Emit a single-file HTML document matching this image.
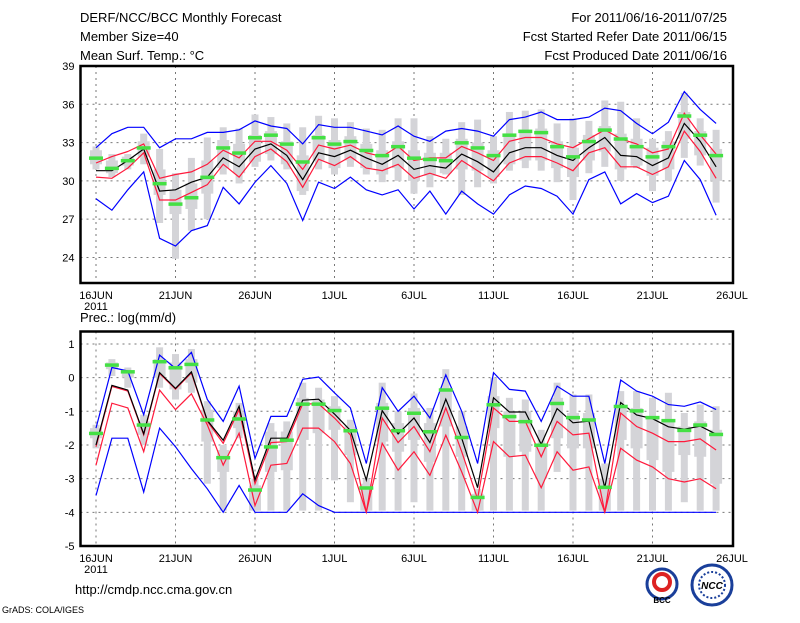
<!DOCTYPE html>
<html><head><meta charset="utf-8">
<style>
body{margin:0;background:#fff;width:800px;height:618px;overflow:hidden}
svg text{font-family:"Liberation Sans",sans-serif;fill:#000}
</style></head>
<body>
<svg id="chart" width="800" height="618" viewBox="0 0 800 618" xmlns="http://www.w3.org/2000/svg">
<g font-size="13">
<text x="80" y="22">DERF/NCC/BCC Monthly Forecast</text>
<text x="80" y="41">Member Size=40</text>
<text x="80" y="60">Mean Surf. Temp.: °C</text>
<text x="727" y="22" text-anchor="end">For 2011/06/16-2011/07/25</text>
<text x="727" y="41" text-anchor="end">Fcst Started Refer Date 2011/06/15</text>
<text x="727" y="60" text-anchor="end">Fcst Produced Date 2011/06/16</text>
</g>
<text x="80" y="322" font-size="13">Prec.: log(mm/d)</text>
<text x="75" y="594" font-size="13">http://cmdp.ncc.cma.gov.cn</text>
<text x="2" y="613" font-size="9">GrADS: COLA/IGES</text>
<g>
<circle cx="662" cy="584" r="15" fill="#fff" stroke="#1a3f9a" stroke-width="3"/>
<circle cx="662" cy="582" r="8" fill="none" stroke="#d22" stroke-width="4"/>
<text x="662" y="603" font-size="8" text-anchor="middle" fill="#1a3f9a" font-weight="bold">BCC</text>
</g>
<g>
<circle cx="712" cy="585" r="20" fill="#fff" stroke="#1a3f9a" stroke-width="3"/>
<circle cx="712" cy="585" r="13" fill="none" stroke="#1a3f9a" stroke-width="2" stroke-dasharray="2 2"/>
<text x="712" y="589" font-size="10" text-anchor="middle" fill="#1a3f9a" font-weight="bold" font-style="italic">NCC</text>
</g>
<g id="top"></g>
<g id="bot"></g>
</svg>
<script>
// ---- data: temperature panel ----
const xLabels=["16JUN","21JUN","26JUN","1JUL","6JUL","11JUL","16JUL","21JUL","26JUL"];
const tTicks=[24,27,30,33,36,39];
const tMean=[30.8,30.8,31.6,32.5,29.2,29.3,29.9,30.3,31.8,31.1,32.5,32.9,32.0,30.1,32.2,31.9,32.4,31.8,31.3,32.0,30.9,31.2,31.0,32.1,31.5,30.7,32.2,32.6,32.6,32.0,31.6,32.6,33.4,32.0,31.9,31.2,31.8,34.5,33.1,31.1];
const tRedHi=[31.4,31.9,32.3,32.9,30.2,30.5,30.7,31.3,32.4,31.8,33.1,33.1,32.4,30.9,32.8,32.5,32.8,32.2,31.9,32.7,31.6,31.8,31.8,32.7,32.2,31.6,33.1,33.4,33.4,32.9,32.6,33.3,34.0,33.3,32.9,32.2,32.5,35.3,33.6,32.1];
const tRedLo=[30.3,30.2,31.0,32.2,28.5,28.5,29.1,29.7,31.3,30.3,31.9,32.5,31.5,29.5,31.7,31.2,31.9,31.0,30.8,31.3,30.2,30.6,30.2,31.6,30.8,30.0,31.4,31.9,31.9,31.4,30.8,32.2,32.6,31.1,31.1,30.5,31.1,33.9,32.3,30.2];
const tBlueHi=[32.6,33.7,34.2,34.2,32.6,33.3,33.3,33.8,33.8,34.0,34.7,34.3,34.1,32.9,34.4,34.2,34.2,33.9,33.6,34.3,33.5,33.1,33.9,34.1,33.9,33.5,34.8,35.0,35.4,34.8,34.8,35.0,35.7,35.5,34.5,33.7,34.6,37.0,35.6,34.5];
const tBlueLo=[28.6,27.7,29.3,30.7,25.5,24.9,26.1,26.5,29.5,28.2,29.9,31.2,29.8,26.9,29.9,29.4,30.3,29.3,28.9,29.3,27.8,29.2,27.4,29.2,28.2,27.4,28.9,29.6,29.4,28.8,27.4,30.1,30.7,28.2,29.0,28.3,28.8,31.6,30.1,27.3];
const tObs=[31.8,31.0,31.6,32.6,29.8,28.2,28.7,30.3,32.6,32.2,33.4,33.6,32.9,31.5,33.4,32.9,33.1,32.4,32.0,32.7,31.8,31.7,31.6,33.0,32.6,32.0,33.6,33.9,33.8,32.7,31.9,33.1,34.0,33.3,32.7,31.9,32.7,35.1,33.6,32.0];
const tMin=[30.9,30.3,30.9,31.3,26.7,23.9,26.1,27.0,30.5,29.8,31.1,31.6,30.9,28.9,30.9,30.5,31.1,30.5,29.9,30.0,29.0,29.5,30.5,28.9,29.5,29.8,30.8,31.0,30.8,29.9,28.5,30.6,31.1,30.0,31.0,29.2,30.0,31.8,31.2,28.3];
const tMax=[32.7,32.1,32.1,33.7,32.5,30.6,31.8,33.4,34.2,34.1,35.2,35.0,34.5,34.2,35.1,34.9,34.6,34.1,34.0,34.9,34.9,33.5,33.3,34.6,34.8,33.5,35.4,35.5,35.6,34.5,34.9,34.7,36.3,36.2,34.9,33.3,33.9,36.9,34.9,34.0];
const tQ1=[31.3,30.6,31.2,31.9,28.9,27.4,27.8,29.0,31.0,30.6,31.5,32.1,31.3,29.2,31.6,31.0,31.6,31.0,30.5,31.0,30.0,30.4,30.6,30.9,30.8,30.3,31.3,31.6,31.6,31.0,30.3,31.6,32.3,30.9,31.2,30.4,30.9,33.3,32.0,30.0];
const tQ3=[32.4,31.6,31.9,33.1,30.9,29.3,29.8,31.6,33.2,32.9,33.6,33.9,33.1,32.0,33.6,33.2,33.5,32.9,32.4,33.1,32.4,32.2,32.2,33.3,33.0,32.4,33.6,34.0,34.1,33.1,32.6,33.6,34.3,33.7,33.3,32.6,33.1,35.4,33.9,32.5];
// ---- data: precipitation panel ----
const pTicks=[-5,-4,-3,-2,-1,0,1];
const pMean=[-2.0,-0.23,-0.37,-1.67,0.15,-0.32,0.17,-1.27,-1.86,-0.85,-3.04,-1.8,-1.8,-0.67,-0.64,-1.08,-1.57,-3.04,-0.98,-1.67,-1.2,-1.93,-0.64,-1.8,-3.27,-0.6,-1.02,-1.02,-1.98,-0.92,-1.34,-1.29,-3.27,-0.74,-1.11,-1.22,-1.46,-1.53,-1.44,-1.68];
const pRedHi=[-2.05,-0.26,-0.4,-1.7,0.12,-0.34,0.14,-1.3,-1.95,-0.95,-3.15,-1.93,-1.9,-0.78,-0.78,-1.2,-1.7,-4.0,-1.2,-1.93,-1.45,-2.2,-0.9,-2.2,-3.6,-0.9,-1.3,-1.3,-2.35,-1.3,-1.7,-1.65,-4.0,-1.05,-1.45,-1.65,-1.9,-1.9,-1.82,-2.15];
const pRedLo=[-2.6,-0.76,-0.9,-2.2,-0.37,-0.95,-0.48,-1.4,-2.6,-1.65,-3.8,-2.6,-2.55,-1.5,-1.5,-1.9,-2.55,-4.0,-1.95,-2.75,-2.2,-2.9,-1.71,-2.8,-4.0,-1.9,-2.35,-2.3,-3.27,-2.2,-2.75,-2.65,-4.0,-2.1,-2.45,-2.65,-3.0,-3.1,-3.0,-3.3];
const pBlueHi=[-1.5,0.3,0.2,-1.1,0.67,0.27,0.75,-0.65,-1.3,-0.25,-2.4,-1.15,-1.15,-0.05,0.02,-0.45,-0.9,-2.55,-0.3,-1.0,-0.55,-1.2,0.08,-1.0,-2.55,0.15,-0.35,-0.4,-1.3,-0.25,-0.55,-0.55,-2.55,-0.07,-0.4,-0.55,-0.8,-0.85,-0.72,-0.95];
const pBlueLo=[-3.5,-1.8,-1.8,-3.4,-1.5,-2.05,-2.7,-3.3,-4.0,-3.2,-4.0,-4.0,-4.0,-3.45,-3.8,-4.0,-4.0,-4.0,-4.0,-4.0,-4.0,-4.0,-4.0,-4.0,-4.0,-4.0,-4.0,-4.0,-4.0,-4.0,-4.0,-4.0,-4.0,-4.0,-4.0,-4.0,-4.0,-4.0,-4.0,-4.0];
const pObs=[-1.65,0.38,0.18,-1.4,0.48,0.3,0.4,-1.25,-2.37,-1.22,-3.33,-2.05,-1.85,-0.78,-0.78,-0.97,-1.57,-3.27,-0.9,-1.57,-1.05,-1.6,-0.36,-1.77,-3.55,-0.8,-1.15,-1.3,-2.0,-0.76,-1.18,-1.25,-3.25,-0.85,-0.98,-1.18,-1.27,-1.56,-1.4,-1.68];
const pMin=[-2.1,0.05,-0.3,-2.0,-0.3,-0.65,-0.45,-3.15,-3.95,-1.8,-3.95,-3.95,-3.95,-3.95,-3.95,-3.05,-3.7,-3.95,-3.95,-3.95,-3.7,-3.95,-3.95,-3.95,-3.95,-3.95,-3.95,-3.95,-3.95,-2.8,-3.95,-3.95,-3.95,-3.95,-3.95,-3.95,-3.95,-3.7,-3.95,-3.95];
const pMax=[-1.4,0.55,0.3,-1.1,0.9,0.7,0.85,-0.7,-2.0,-0.75,-3.0,-1.35,-1.3,-0.15,-0.3,-0.55,-1.25,-3.0,-0.15,-1.0,-0.47,-0.9,0.25,-1.0,-3.3,0.0,-0.6,-0.65,-1.55,-0.15,-0.5,-0.5,-2.55,-0.4,-0.4,-0.6,-0.45,-1.05,-0.8,-0.85];
const pQ1=[-1.8,0.25,0.0,-1.7,0.0,-0.35,-0.15,-1.9,-2.8,-1.5,-3.95,-2.8,-2.75,-1.85,-1.65,-1.55,-2.3,-3.95,-1.9,-2.2,-1.85,-2.5,-1.45,-2.35,-3.95,-1.5,-2.35,-2.2,-3.0,-1.8,-2.1,-2.1,-3.95,-1.85,-2.1,-2.45,-2.8,-2.3,-2.35,-3.15];
const pQ3=[-1.5,0.45,0.2,-1.3,0.55,0.45,0.55,-0.95,-2.15,-1.0,-3.2,-1.6,-1.6,-0.6,-0.65,-0.85,-1.45,-3.15,-0.75,-1.35,-0.9,-1.35,-0.3,-1.45,-3.45,-0.55,-1.0,-1.0,-2.05,-0.6,-1.05,-1.05,-3.0,-0.85,-0.9,-1.15,-1.25,-1.45,-1.3,-1.55];

const NS='http://www.w3.org/2000/svg';
function mk(tag,attrs,parent){const e=document.createElementNS(NS,tag);for(const k in attrs)e.setAttribute(k,attrs[k]);parent.appendChild(e);return e;}
const X0=96, DX=15.9, PL=80.5, PR=733;
function xDay(d){return X0+d*DX;}

function panel(g,top,bottom,vmin,vmax,ticks,series,boxes,name){
  const y=v=>top+(vmax-v)/(vmax-vmin)*(bottom-top);
  // grid
  ticks.forEach(t=>{const yy=y(t);if(yy>top+1&&yy<bottom-1){
    const l=mk('line',{x1:PL,x2:PR,y1:yy,y2:yy,stroke:'#777','stroke-dasharray':'2 4','stroke-width':1},g);
    
    }
    const tx=mk('text',{x:PL-6,y:yy+4,'text-anchor':'end','font-size':'11'},g);
    tx.textContent=t;
    
    
  });
  xLabels.forEach((lab,i)=>{const xx=xDay(i*5);
    if(i<8){const l=mk('line',{x1:xx,x2:xx,y1:top,y2:bottom,stroke:'#777','stroke-dasharray':'2 4'},g);
    
    }
    const tx=mk('text',{x:xx,y:bottom+16,'text-anchor':'middle','font-size':'11'},g);
    tx.textContent=lab;
    
    
  });
  const yr=mk('text',{x:xDay(0),y:bottom+27,'text-anchor':'middle','font-size':'11'},g);
  yr.textContent='2011';
  
  
  // boxes
  boxes.min.forEach((_,d)=>{const xx=xDay(d);
    const w=mk('rect',{x:xx-3.5,y:y(boxes.max[d]),width:7,height:y(boxes.min[d])-y(boxes.max[d]),fill:'#d4d4d8'},g);
    
    
    const b=mk('rect',{x:xx-6,y:y(boxes.q3[d]),width:12,height:Math.max(0,y(boxes.q1[d])-y(boxes.q3[d])),fill:'#d4d4d8'},g);
    
    
  });
  series.forEach(s=>{
    const pts=s.data.map((v,d)=>xDay(d).toFixed(1)+','+y(v).toFixed(1)).join(' ');
    const p=mk('polyline',{points:pts,fill:'none',stroke:s.color,'stroke-width':1.2},g);
    
    
  });
  boxes.obs.forEach((v,d)=>{
    const r=mk('rect',{x:xDay(d)-7,y:y(v)-1.5,width:14,height:3.5,fill:'#44e044'},g);
    
    
  });
  const f=mk('rect',{x:PL,y:top,width:PR-PL,height:bottom-top,fill:'none',stroke:'#000','stroke-width':2.5},g);
  
  
}
panel(document.getElementById('top'),66,283,22,39,tTicks,
 [{name:'blue-upper',data:tBlueHi,color:'#0000ff'},{name:'blue-lower',data:tBlueLo,color:'#0000ff'},
  {name:'red-upper',data:tRedHi,color:'#ff1a3c'},{name:'red-lower',data:tRedLo,color:'#ff1a3c'},
  {name:'ensemble-mean',data:tMean,color:'#000'}],
 {min:tMin,max:tMax,q1:tQ1,q3:tQ3,obs:tObs},'temp');
panel(document.getElementById('bot'),331.5,546,-5,1.37,pTicks,
 [{name:'blue-upper',data:pBlueHi,color:'#0000ff'},{name:'blue-lower',data:pBlueLo,color:'#0000ff'},
  {name:'red-upper',data:pRedHi,color:'#ff1a3c'},{name:'red-lower',data:pRedLo,color:'#ff1a3c'},
  {name:'ensemble-mean',data:pMean,color:'#000'}],
 {min:pMin,max:pMax,q1:pQ1,q3:pQ3,obs:pObs},'prec');
</script>
</body></html>
